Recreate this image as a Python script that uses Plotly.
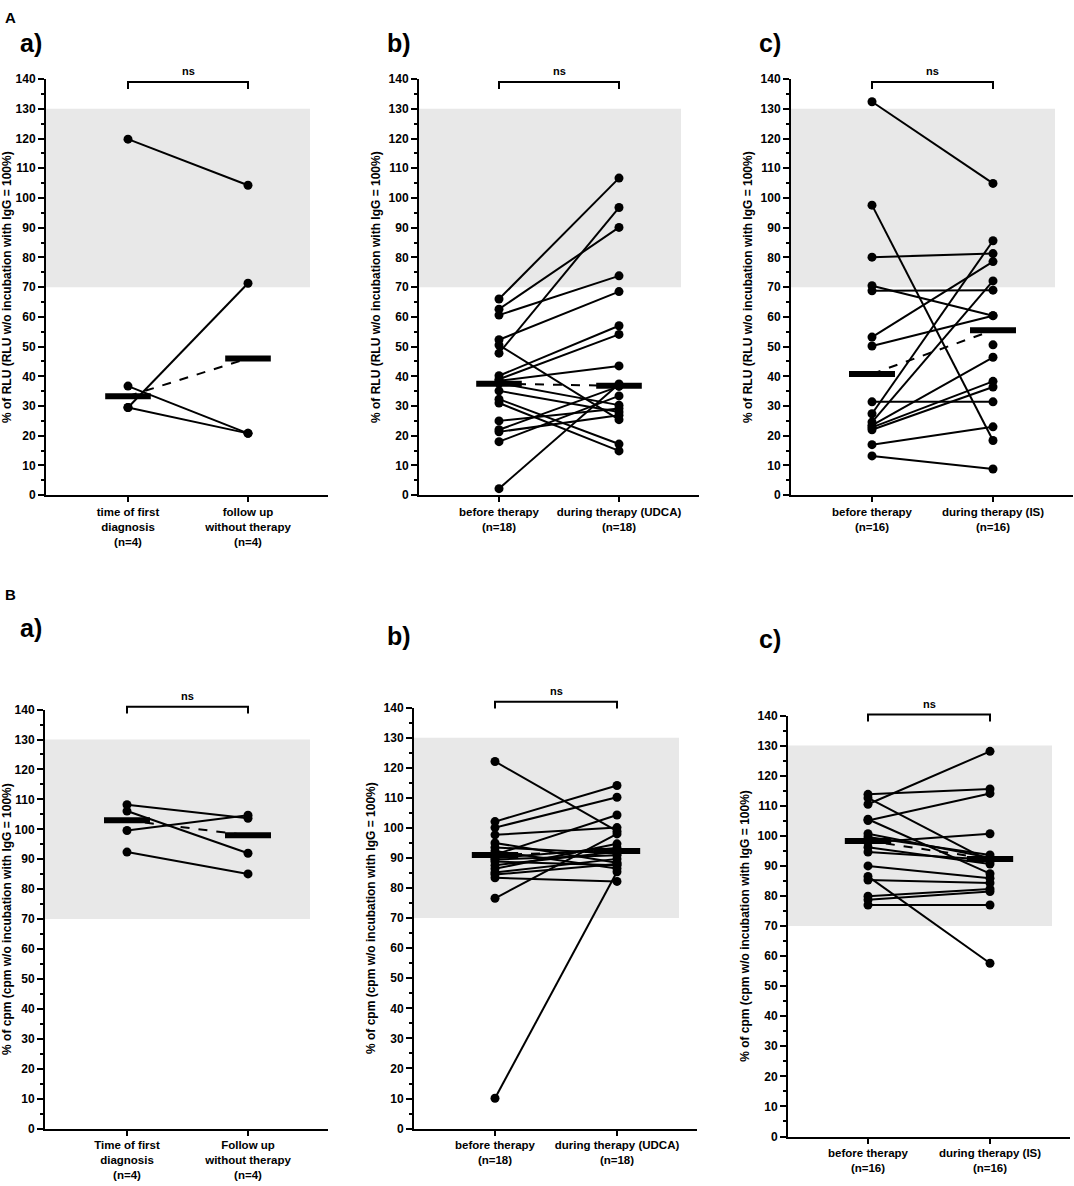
import plotly.graph_objects as go

W, H = 1074, 1186
FONT = "Liberation Sans"

# ---- data ----------------------------------------------------------------
# A) % of RLU
aa_before = [119.8, 36.7, 29.5, 29.5]
aa_after = [104.3, 20.8, 71.3, 20.8]

ab_before = [66.0, 62.6, 60.6, 52.3, 50.5, 47.8, 40.2, 39.0, 38.5,
             37.7, 35.1, 32.3, 31.0, 25.0, 22.0, 21.3, 18.0, 2.2]
ab_after = [106.7, 90.1, 73.8, 68.5, 25.4, 96.8, 57.0, 54.1, 43.5,
            30.3, 28.0, 17.2, 14.9, 29.2, 36.6, 26.9, 33.4, 37.4]

ac_before = [132.4, 97.6, 80.1, 70.5, 68.8, 53.2, 50.2, 31.4,
             27.4, 24.6, 23.5, 22.8, 22.0, 17.0, 13.2, None]
ac_after = [104.9, 18.4, 81.3, 60.4, 69.0, 78.6, 60.4, 31.4,
            85.6, 72.1, 46.4, 38.3, 36.4, 23.0, 8.8, 50.6]

# B) % of cpm
ba_before = [108.2, 106.1, 99.6, 92.4]
ba_after = [103.7, 92.0, 104.7, 85.1]

bb_before = [122.1, 102.1, 100.1, 97.7, 95.0, 93.5, 92.3, 91.1, 90.0,
             89.5, 88.8, 87.6, 86.4, 85.2, 84.5, 83.4, 76.6, 10.1]
bb_after = [98.9, 114.1, 110.2, 100.1, 88.4, 91.5, 86.5, 104.3, 93.3,
            90.9, 87.6, 92.1, 94.7, 89.7, 88.0, 82.2, 98.0, 85.4]

bc_before = [113.8, 112.6, 110.5, 105.1, 105.5, 100.7, 99.6, 97.8,
             96.2, 94.6, 90.0, 86.5, 85.3, 79.9, 78.7, 77.0]
bc_after = [115.6, 91.5, 128.1, 114.1, 87.4, 92.7, 93.6, 100.7,
            90.6, 92.0, 85.9, 57.6, 84.3, 82.3, 81.5, 77.0]

# medians (thick bars)
median_before = [33.3, 37.5, 40.8, 103.0, 91.0, 98.3]
median_after = [46.0, 36.8, 55.5, 98.0, 92.3, 92.3]

labels_a = ["time of first<br>diagnosis<br>(n=4)", "follow up<br>without therapy<br>(n=4)"]
labels_b = ["before therapy<br>(n=18)", "during therapy (UDCA)<br>(n=18)"]
labels_c = ["before therapy<br>(n=16)", "during therapy (IS)<br>(n=16)"]
labels_ba = ["Time of first<br>diagnosis<br>(n=4)", "Follow up<br>without therapy<br>(n=4)"]

title_rlu = "% of RLU (RLU w/o incubation with IgG = 100%)"
title_cpm = "% of cpm (cpm w/o incubation with IgG = 100%)"

# panel geometry in pixels: y-axis x, category x's, y of 140, y of 0
panels = [
    dict(b=aa_before, a=aa_after, ticks=labels_a, title=title_rlu,
         left=46, c0=128, c1=248, top=73, bot=494, br=-3, lab="a)", lx=31, ly=36),
    dict(b=ab_before, a=ab_after, ticks=labels_b, title=title_rlu,
         left=419, c0=499, c1=619, top=73, bot=494, br=-3, lab="b)", lx=399, ly=36),
    dict(b=ac_before, a=ac_after, ticks=labels_c, title=title_rlu,
         left=791, c0=872, c1=993, top=73, bot=494, br=-3, lab="c)", lx=770, ly=36),
    dict(b=ba_before, a=ba_after, ticks=labels_ba, title=title_cpm,
         left=45, c0=127, c1=248, top=711, bot=1135, br=3, lab="a)", lx=31, ly=628),
    dict(b=bb_before, a=bb_after, ticks=labels_b, title=title_cpm,
         left=414, c0=495, c1=617, top=709, bot=1135, br=6, lab="b)", lx=399, ly=637),
    dict(b=bc_before, a=bc_after, ticks=labels_c, title=title_cpm,
         left=788, c0=868, c1=990, top=717, bot=1143, br=1, lab="c)", lx=770, ly=640),
]

fig = go.Figure()
shapes = []
annotations = []
layout = {}

for i, p in enumerate(panels):
    n = i + 1
    xa = "x" if n == 1 else f"x{n}"
    ya = "y" if n == 1 else f"y{n}"
    unit = p["c1"] - p["c0"]
    lo = -(p["c0"] - p["left"]) / unit
    hi = 1 + 80 / unit
    ph = p["bot"] - p["top"]

    layout[f"xaxis{'' if n == 1 else n}"] = dict(
        domain=[p["left"] / W, min((p["c1"] + 80) / W, 1.0)],
        range=[lo, hi], anchor=ya, showgrid=False, zeroline=False,
        showline=True, linecolor="black", linewidth=2,
        ticks="outside", ticklen=5, tickwidth=2, tickcolor="black",
        tickvals=[0, 1], ticktext=p["ticks"],
        tickfont=dict(family=FONT, size=11.5, color="black", weight="bold"),
    )
    layout[f"yaxis{'' if n == 1 else n}"] = dict(
        domain=[1 - p["bot"] / H, 1 - p["top"] / H],
        range=[0, 140], anchor=xa, showgrid=False, zeroline=False,
        showline=True, linecolor="black", linewidth=2,
        ticks="outside", ticklen=6, tickwidth=2, tickcolor="black",
        tick0=0, dtick=10,
        minor=dict(dtick=5, ticks="outside", ticklen=3, tickwidth=2, tickcolor="black"),
        tickfont=dict(family=FONT, size=12, color="black", weight="bold"),
        title=dict(text=p["title"], standoff=5,
                   font=dict(family=FONT, size=12, color="black", weight="bold")),
    )

    # grey reference range 70-130 %
    shapes.append(dict(type="rect", xref=xa, yref=ya, x0=lo, x1=1 + 62 / unit,
                       y0=70, y1=130, fillcolor="#e8e8e8", line_width=0, layer="below"))

    # paired lines with dots
    for vb, va in zip(p["b"], p["a"]):
        xs = [0, 1] if vb is not None else [1]
        ys = [vb, va] if vb is not None else [va]
        fig.add_trace(go.Scatter(
            x=xs, y=ys, xaxis=xa, yaxis=ya, mode="lines+markers",
            line=dict(color="black", width=2),
            marker=dict(color="black", size=9),
            cliponaxis=False, showlegend=False, hoverinfo="y"))

    # median connection and bars
    mb, ma = median_before[i], median_after[i]
    fig.add_trace(go.Scatter(
        x=[0, 1], y=[mb, ma], xaxis=xa, yaxis=ya, mode="lines",
        line=dict(color="black", width=2, dash="dash"),
        showlegend=False, hoverinfo="skip"))
    for xc, m in ((0, mb), (1, ma)):
        fig.add_trace(go.Scatter(
            x=[xc - 0.19, xc + 0.19], y=[m, m], xaxis=xa, yaxis=ya, mode="lines",
            line=dict(color="black", width=6),
            showlegend=False, hoverinfo="skip"))

    # significance bracket
    yb = 1 + p["br"] / ph
    yl = yb - 7 / ph
    shapes.append(dict(type="path", xref=xa, yref=f"{ya} domain",
                       path=f"M 0,{yl} L 0,{yb} L 1,{yb} L 1,{yl}",
                       line=dict(color="black", width=2)))
    annotations.append(dict(xref=xa, yref=f"{ya} domain", x=0.5, y=yb,
                            yanchor="bottom", yshift=3, text="ns", showarrow=False,
                            font=dict(family=FONT, size=11, color="black", weight="bold")))

    # panel label
    annotations.append(dict(xref="paper", yref="paper", x=p["lx"] / W, y=1 - p["ly"] / H,
                            xanchor="center", yanchor="middle",
                            text=p["lab"], showarrow=False,
                            font=dict(family=FONT, size=25, color="black", weight="bold")))

for txt, yy in (("A", 11), ("B", 595)):
    annotations.append(dict(xref="paper", yref="paper", x=10 / W, y=1 - yy / H,
                            xanchor="center", yanchor="middle",
                            text=txt, showarrow=False,
                            font=dict(family=FONT, size=15, color="black", weight="bold")))

fig.update_layout(
    width=W, height=H, margin=dict(l=0, r=0, t=0, b=0),
    paper_bgcolor="white", plot_bgcolor="white",
    shapes=shapes, annotations=annotations, **layout,
)

fig.write_html("out.html", config={"displayModeBar": False},
               post_script="document.body.style.margin='0px';")
